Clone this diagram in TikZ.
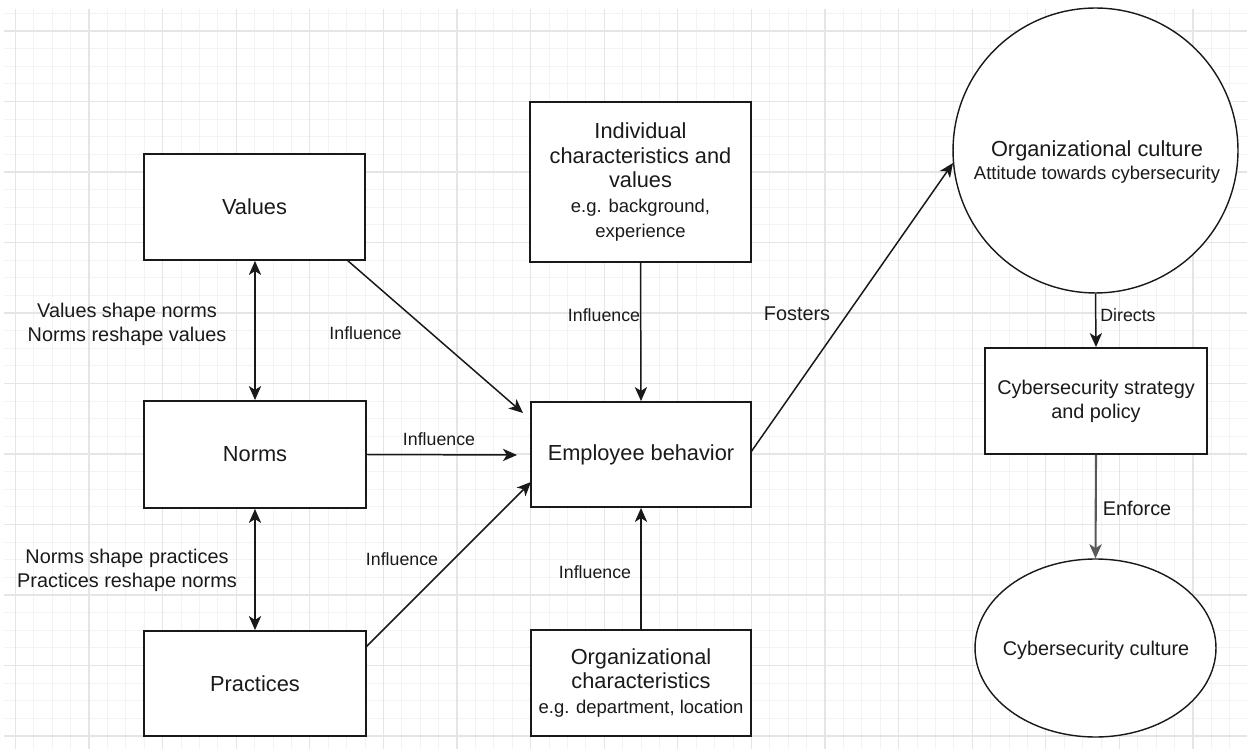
\documentclass[tikz,border=0pt]{standalone}
\usepackage{fontspec}
\setmainfont{Liberation Sans}
\usetikzlibrary{arrows.meta,shapes.geometric}
\newcommand\FMain{\fontsize{12.4pt}{14pt}\selectfont}
\newcommand\FSub{\fontsize{10.5pt}{14pt}\selectfont}
\newcommand\FLab{\fontsize{10.1pt}{12pt}\selectfont}
\newcommand\FMed{\fontsize{11.3pt}{13.7pt}\selectfont}
\definecolor{minorgrid}{HTML}{F3F3F3}
\definecolor{majorgrid}{HTML}{E5E5E5}
\definecolor{txt}{HTML}{1A1A1A}
\begin{document}
\begin{tikzpicture}[x=0.02cm,y=-0.02cm,
  box/.style={draw=black!90, line width=1.05pt, fill=white, align=center, inner sep=2pt, text=txt, font=\FMain},
  conn/.style={draw=black!90, line width=0.85pt, -{Stealth[length=8pt,width=7pt,inset=2.2pt]}},
  dconn/.style={draw=black!90, line width=0.85pt, {Stealth[length=8pt,width=7pt,inset=2.2pt]}-{Stealth[length=8pt,width=7pt,inset=2.2pt]}},
  lab/.style={text=txt, font=\FLab, inner sep=1pt},
  medlab/.style={text=txt, font=\FMed, inner sep=1pt, align=center}]
\useasboundingbox (0,0) rectangle (1247,749);
\fill[white] (0,0) rectangle (1247,749);
% grid
\foreach \i in {0,...,67} \draw[minorgrid, line width=0.55pt] ({15.4+18.4*\i},9) -- ({15.4+18.4*\i},749);
\foreach \i in {0,...,41} \draw[minorgrid, line width=0.55pt] (4,{13.4+17.625*\i}) -- (1247,{13.4+17.625*\i});
\foreach \i in {0,...,16} \draw[majorgrid, line width=0.6pt] ({15.4+73.6*\i},9) -- ({15.4+73.6*\i},749);
\foreach \i in {0,...,10} \draw[majorgrid, line width=0.6pt] (4,{31+70.5*\i}) -- (1247,{31+70.5*\i});

% left column
\node[box, minimum width=4.42cm, minimum height=2.12cm] (values) at (254.5,207) {Values};
\node[box, minimum width=4.44cm, minimum height=2.14cm] (norms) at (255,454.5) {Norms};
\node[box, minimum width=4.44cm, minimum height=2.10cm] (practices) at (255,683.5) {Practices};

% middle column
\node[box, minimum width=4.42cm, minimum height=3.20cm] (indiv) at (640.5,182)
  {Individual\\characteristics and\\values\\{\FSub e.g. background,}\\{\FSub experience}};
\node[box, minimum width=4.40cm, minimum height=2.10cm] (emp) at (641,454.5) {Employee behavior};
\node[box, minimum width=4.40cm, minimum height=2.12cm] (orgchar) at (641,683)
  {Organizational\\characteristics\\{\FSub e.g. department, location}};

% right column
\node[circle, draw=black!90, line width=0.8pt, fill=white, minimum size=5.70cm, inner sep=0pt] (orgcult) at (1095.5,150.5) {};
\node[align=center, text=txt, inner sep=0pt] (orgculttxt) at (1097,162)
  {{\FMain Organizational culture}\\[1pt]{\FSub Attitude towards cybersecurity}};
\node[box, font=\FMed, minimum width=4.44cm, minimum height=2.12cm] (strategy) at (1096,401)
  {Cybersecurity strategy\\and policy};
\node[ellipse, draw=black!90, line width=0.8pt, fill=white, minimum width=4.82cm, minimum height=3.56cm, inner sep=0pt] (cybcult) at (1095.5,648) {};
\node[text=txt, font=\FMed, inner sep=0pt] (cybculttxt) at (1096,650) {Cybersecurity culture};

% free ends
\coordinate (vStart) at (347,260);
\coordinate (vEnd) at (523,413);
\coordinate (nEnd) at (517,455);
\coordinate (pStart) at (366,647);
\coordinate (pEnd) at (531,482);
\coordinate (eStart) at (751,452);
\coordinate (oEnd) at (953,163);

% connectors
\draw[dconn] (values.south -| norms.north) -- (norms.north);
\draw[dconn] (norms.south) -- (practices.north);
\draw[conn] (vStart) -- (vEnd);
\draw[conn] (norms.east) -- (nEnd);
\draw[conn] (pStart) -- (pEnd);
\draw[conn] (indiv.south) -- (emp.north);
\draw[conn] (orgchar.north) -- (emp.south);
\draw[conn] (eStart) -- (oEnd);
\draw[conn] (orgcult.south) -- (strategy.north);
\draw[conn, draw=black!65, line width=1.2pt] (strategy.south) -- (cybcult.north);

% labels
\node[medlab] (l1) at (127,324) {Values shape norms\\Norms reshape values};
\node[medlab] (l2) at (127,570.5) {Norms shape practices\\Practices reshape norms};
\node[lab] (i1) at (365.5,333) {Influence};
\node[lab] (i2) at (439,439) {Influence};
\node[lab] (i3) at (402,559) {Influence};
\node[lab] (i4) at (604,315) {Influence};
\node[lab] (i5) at (595,572) {Influence};
\node[medlab] (fost) at (797,314) {Fosters};
\node[lab] (dir) at (1128,315) {Directs};
\node[medlab] (enf) at (1137,508) {Enforce};
\end{tikzpicture}
\end{document}
